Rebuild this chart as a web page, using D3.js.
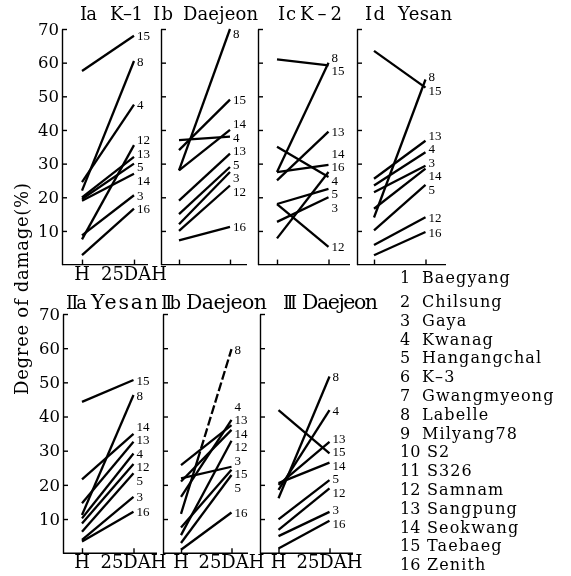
<!DOCTYPE html>
<html>
<head>
<meta charset="utf-8">
<script src="https://cdn.jsdelivr.net/npm/d3@7"></script>
<style>
body { margin: 0; background: #fff; }
svg { display: block; filter: grayscale(1); }
</style>
</head>
<body>
<div id="chart"></div>
<script>
const cultivars = ["Baegyang", "Chilsung", "Gaya", "Kwanag", "Hangangchal", "K\u20133", "Gwangmyeong",
    "Labelle", "Milyang78", "S2", "S326", "Samnam", "Sangpung", "Seokwang", "Taebaeg", "Zenith"];
const stages = ["H", "25DAH"];
const yTicks = [10, 20, 30, 40, 50, 60, 70];

// [cultivar no., damage % at H, damage % at 25DAH]
const ia = [[15, 57.5, 68], [8, 22, 60.5], [4, 24.5, 47.5], [12, 7.5, 35.5], [13, 20, 32],
    [5, 19.5, 30], [14, 19, 27], [3, 8.7, 20.6], [16, 2.8, 16.6]];
const ib = [[8, 28, 70], [15, 34, 49], [14, 28, 40], [4, 37, 38], [13, 19, 33],
    [5, 15, 29], [3, 12, 27.5], [12, 10, 23.5], [16, 7.2, 11.2]];
const ic = [[15, 61, 59.2], [8, 27.5, 60], [13, 25, 39.5], [14, 27.5, 29.6], [16, 7.8, 27.5],
    [4, 35, 26], [5, 18, 22.5], [3, 12.7, 20], [12, 18, 5.3]];
const id = [[15, 63.5, 52.6], [8, 14, 55], [13, 25.5, 36.8], [4, 23.5, 33.4], [3, 21.5, 29.4],
    [14, 16.6, 28.5], [5, 10.2, 23.7], [12, 5.8, 14.1], [16, 2.8, 9.7]];
const iia = [[15, 44.3, 50.7], [8, 11.2, 46.3], [14, 21.6, 34.9], [13, 14.6, 32.6], [4, 10.2, 29.2],
    [12, 8.7, 26.1], [5, 6.3, 23.4], [3, 3.9, 16.5], [16, 3.4, 12.1]];
const iib = [[8, 11.5, 59.7], [4, 16.5, 39], [13, 25.8, 37.5], [14, 21, 36.1], [12, 5.3, 32.9],
    [3, 21.9, 25.3], [15, 7.5, 24.4], [5, 3, 22.9], [16, 1, 11.9]];
const iii = [[15, 41.9, 29.2], [8, 16.1, 51.7], [4, 18.5, 41.9], [13, 20, 32.6], [14, 20.5, 26.5],
    [5, 9.9, 21.4], [12, 6.8, 19], [3, 5, 12.1], [16, 1.4, 9.5]];
const dashedLines = ["IIb-8"];

const width = 571, height = 576;
const serif = "'DejaVu Serif', serif";
const small = "'Liberation Serif', serif";

const rows = [
    { y: d3.scaleLinear([0, 70], [264.6, 29]), title: 20, tsize: 18, xlab: 280 },
    { y: d3.scaleLinear([0, 70], [553.2, 314]), title: 309, tsize: 20.5, xlab: 568 }
];

// layout: axis x, H x, 25DAH x, title pieces (x, width), right end of base line
const panels = [
    { key: "Ia", rom: "Ia", site: "K\u20131", data: ia, row: 0, ax: 62, hx: 82, dx: 134, r: [80, 17], s: [110, 33], labels: true, xlab: true, end: 148 },
    { key: "Ib", rom: "Ib", site: "Daejeon", data: ib, row: 0, ax: 161, hx: 179, dx: 230, r: [153, 20], s: [183, 75], end: 247 },
    { key: "Ic", rom: "Ic", site: "K\u20132", data: ic, row: 0, ax: 258, hx: 277, dx: 328.5, r: [278, 18], s: [300, 42], end: 350 },
    { key: "Id", rom: "Id", site: "Yesan", data: id, row: 0, ax: 357, hx: 374, dx: 425.5, r: [365, 20], s: [398, 54], end: 446 },
    { key: "IIa", rom: "IIa", site: "Yesan", data: iia, row: 1, ax: 63, hx: 82, dx: 133.5, r: [66, 21], s: [91, 67], labels: true, xlab: true, end: 157 },
    { key: "IIb", rom: "IIb", site: "Daejeon", data: iib, row: 1, ax: 163, hx: 181, dx: 231.5, r: [161, 20], s: [186, 81], xlab: true, end: 248 },
    { key: "III", rom: "III", site: "Daejeon", data: iii, row: 1, ax: 260, hx: 278.5, dx: 329.5, r: [283, 14], s: [302, 76], xlab: true, end: 353 }
];

const svg = d3.select("#chart").append("svg")
    .attr("width", width)
    .attr("height", height)
    .style("background", "#fff");

panels.forEach(p => {
    const y = rows[p.row].y;
    const x = d3.scalePoint(stages, [p.hx, p.dx]);
    const g = svg.append("g");

    // y axis, ticks point inward
    const yAxis = d3.axisLeft(y).tickValues(yTicks)
        .tickSizeInner(-5).tickSizeOuter(0).tickPadding(3)
        .tickFormat(p.labels ? d3.format("d") : "");
    g.append("g")
        .attr("transform", `translate(${p.ax},0)`)
        .call(yAxis)
        .call(a => a.selectAll("path, line").attr("stroke", "#000").attr("stroke-width", 1.4))
        .call(a => a.selectAll("text").attr("font-family", serif).attr("font-size", 16.5).attr("fill", "#000"));

    // x axis baseline + upward ticks at H and 25DAH
    g.append("line")
        .attr("x1", p.ax).attr("x2", p.end)
        .attr("y1", y(0)).attr("y2", y(0))
        .attr("stroke", "#000").attr("stroke-width", 1.4);
    g.append("g")
        .attr("transform", `translate(0,${y(0)})`)
        .call(d3.axisBottom(x).tickSizeInner(-5).tickSizeOuter(0).tickFormat(""))
        .call(a => a.select(".domain").remove())
        .call(a => a.selectAll("line").attr("stroke", "#000").attr("stroke-width", 1.4));

    if (p.xlab) {
        g.selectAll("text.xlab")
            .data(stages)
            .join("text")
            .attr("class", "xlab")
            .attr("x", d => x(d))
            .attr("y", rows[p.row].xlab)
            .attr("text-anchor", "middle")
            .attr("font-family", serif)
            .attr("font-size", 18)
            .text(d => d);
    }

    // title: roman numeral + site
    g.append("text")
        .attr("x", p.r[0])
        .attr("y", rows[p.row].title)
        .attr("font-family", serif)
        .attr("font-size", 18)
        .attr("textLength", p.r[1])
        .attr("lengthAdjust", "spacing")
        .text(p.rom);
    g.append("text")
        .attr("x", p.s[0])
        .attr("y", rows[p.row].title)
        .attr("font-family", serif)
        .attr("font-size", rows[p.row].tsize)
        .attr("textLength", p.s[1])
        .attr("lengthAdjust", "spacing")
        .text(p.site);

    // cultivar lines
    const lines = g.selectAll("path.cv")
        .data(p.data)
        .join("path")
        .attr("class", "cv")
        .attr("d", d => d3.line()([[x("H"), y(d[1])], [x("25DAH"), y(d[2])]]))
        .attr("fill", "none")
        .attr("stroke", "#000")
        .attr("stroke-width", 2.3);

    // dashed upper part of a line (solid near H)
    lines.filter(d => dashedLines.includes(p.key + "-" + d[0]))
        .attr("stroke-dasharray", function () {
            const L = this.getTotalLength();
            const dash = [L * 0.38];
            let s = L * 0.38;
            while (s < L) { dash.push(3, 9); s += 12; }
            return dash.join(",");
        });

    // end labels, spread so they do not overlap
    const labs = p.data.map(d => ({ id: d[0], y: y(d[2]) })).sort((a, b) => a.y - b.y);
    const gap = 13.5;
    for (let k = 0; k < 300; k++) {
        labs[0].y = Math.max(labs[0].y, y(70) + 4);
        for (let i = 1; i < labs.length; i++) {
            const over = gap - (labs[i].y - labs[i - 1].y);
            if (over > 0) {
                labs[i - 1].y -= over / 2;
                labs[i].y += over / 2;
            }
        }
    }
    g.selectAll("text.end")
        .data(labs)
        .join("text")
        .attr("class", "end")
        .attr("x", p.dx + 3)
        .attr("y", d => d.y)
        .attr("dy", "0.35em")
        .attr("font-family", small)
        .attr("font-size", 13)
        .text(d => d.id);
});

// y axis title
svg.append("text")
    .attr("transform", "translate(28,289) rotate(-90)")
    .attr("text-anchor", "middle")
    .attr("font-family", serif)
    .attr("font-size", 18)
    .attr("textLength", 212)
    .attr("lengthAdjust", "spacing")
    .text("Degree of damage(%)");

// cultivar key
const keyY = i => i === 0 ? 283 : 307 + (i - 1) * 18.8;
const rowsKey = svg.append("g")
    .attr("font-family", serif)
    .attr("font-size", 16)
    .selectAll("text")
    .data(cultivars)
    .join("text")
    .attr("y", (d, i) => keyY(i));
rowsKey.append("tspan")
    .attr("x", 400)
    .text((d, i) => i + 1);
rowsKey.append("tspan")
    .attr("x", (d, i) => i < 9 ? 422 : 427)
    .attr("letter-spacing", 1.1)
    .text(d => d);
</script>
</body>
</html>
